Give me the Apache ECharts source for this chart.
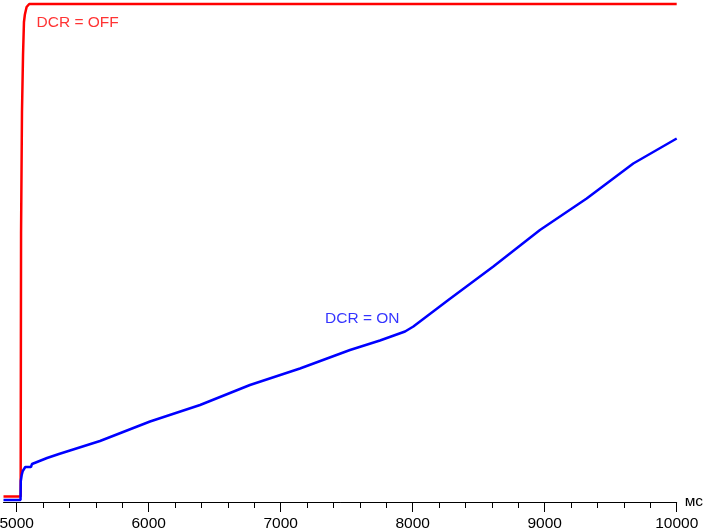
<!DOCTYPE html>
<html>
<head>
<meta charset="utf-8">
<script src="https://cdn.jsdelivr.net/npm/echarts@6/dist/echarts.min.js"></script>
<style>
html,body{margin:0;padding:0;background:#fff;}
#chart{width:703px;height:530px;}
</style>
</head>
<body>
<div id="chart"></div>
<script>
// ---- data (time in ms, brightness in % of full) ----
const xMin = 4900;
const xMax = 10000;
const majorTicks = [5000, 6000, 7000, 8000, 9000, 10000];
const minorTicks = [5200, 5400, 5600, 5800, 6200, 6400, 6600, 6800, 7200, 7400, 7600, 7800,
                    8200, 8400, 8600, 8800, 9200, 9400, 9600, 9800];
const unitLabel = 'мс';

const dcrOffTime  = [4900, 5030, 5033, 5040, 5048, 5055, 5062, 5075, 5095, 10000];
const dcrOffValue = [1.1,  1.1,  54,   78,   89.5, 96,   97.5, 99,   99.6, 99.6];

const dcrOnTime  = [4900, 5029, 5031, 5038, 5046, 5065, 5108, 5116, 5154, 5230, 5320, 5631,
                    6010, 6389, 6767, 7146, 7525, 7752, 7942, 8005, 8270, 8611, 8964, 9318, 9671, 10000];
const dcrOnValue = [0.4,  0.4,  4.2,  5.4,  6.2,  7.0,  7.0,  7.6,  8.0,  8.8,  9.6,  12.2,
                    16.1, 19.4, 23.4, 26.7, 30.4, 32.3, 34.1, 35.1, 40.4, 47.1, 54.4, 60.7, 67.7, 72.7];

const annotationText = ['DCR = OFF', 'DCR = ON'];
const annotationX = [5150, 7336];
const annotationY = [95.9, 36.7];
const annotationColor = ['#ff0000', '#0000ff'];

// ---- chart ----
const zip = (xs, ys) => xs.map((x, i) => [x, ys[i]]);
const chart = echarts.init(document.getElementById('chart'), null, {renderer: 'canvas'});
const font = 'Arial, "Liberation Sans", sans-serif';

chart.setOption({
  animation: false,
  backgroundColor: '#ffffff',
  grid: {left: 3.5, right: 26.3, top: 2, bottom: 28, outerBoundsMode: 'none', containLabel: false},
  xAxis: [{
    type: 'value', min: xMin, max: xMax, position: 'bottom',
    name: unitLabel, nameLocation: 'end', nameGap: 8,
    nameTextStyle: {color: '#000', fontSize: 15.5, fontFamily: font},
    axisLine: {show: true, onZero: false, lineStyle: {color: '#000', width: 1}},
    axisTick: {show: true, customValues: majorTicks, length: 10, lineStyle: {color: '#000', width: 1}},
    axisLabel: {show: true, customValues: majorTicks, color: '#000', fontSize: 15.5, fontFamily: font, margin: 14,
                formatter: v => String(v)},
    splitLine: {show: false}
  }, {
    type: 'value', min: xMin, max: xMax, position: 'bottom', offset: 0,
    axisLine: {show: false},
    axisTick: {show: true, customValues: minorTicks, length: 6, lineStyle: {color: '#000', width: 1}},
    axisLabel: {show: false},
    splitLine: {show: false}
  }],
  yAxis: {type: 'value', min: 0, max: 100, show: false},
  series: [{
    name: 'DCR = OFF', type: 'line', xAxisIndex: 0, data: zip(dcrOffTime, dcrOffValue),
    showSymbol: false, symbol: 'none', lineStyle: {color: '#ff0000', width: 2.5}, z: 2
  }, {
    name: 'DCR = ON', type: 'line', xAxisIndex: 0, data: zip(dcrOnTime, dcrOnValue),
    showSymbol: false, symbol: 'none', lineStyle: {color: '#0000ff', width: 2.5}, z: 3
  }, {
    name: 'labels', type: 'scatter', xAxisIndex: 0, symbolSize: 0,
    itemStyle: {color: 'rgba(0,0,0,0)'},
    data: annotationText.map((t, i) => ({
      value: [annotationX[i], annotationY[i]],
      label: {show: true, position: 'right', distance: 0, formatter: t,
              color: annotationColor[i], fontSize: 15.5, fontFamily: font}
    })),
    silent: true, z: 4
  }]
});
</script>
</body>
</html>
